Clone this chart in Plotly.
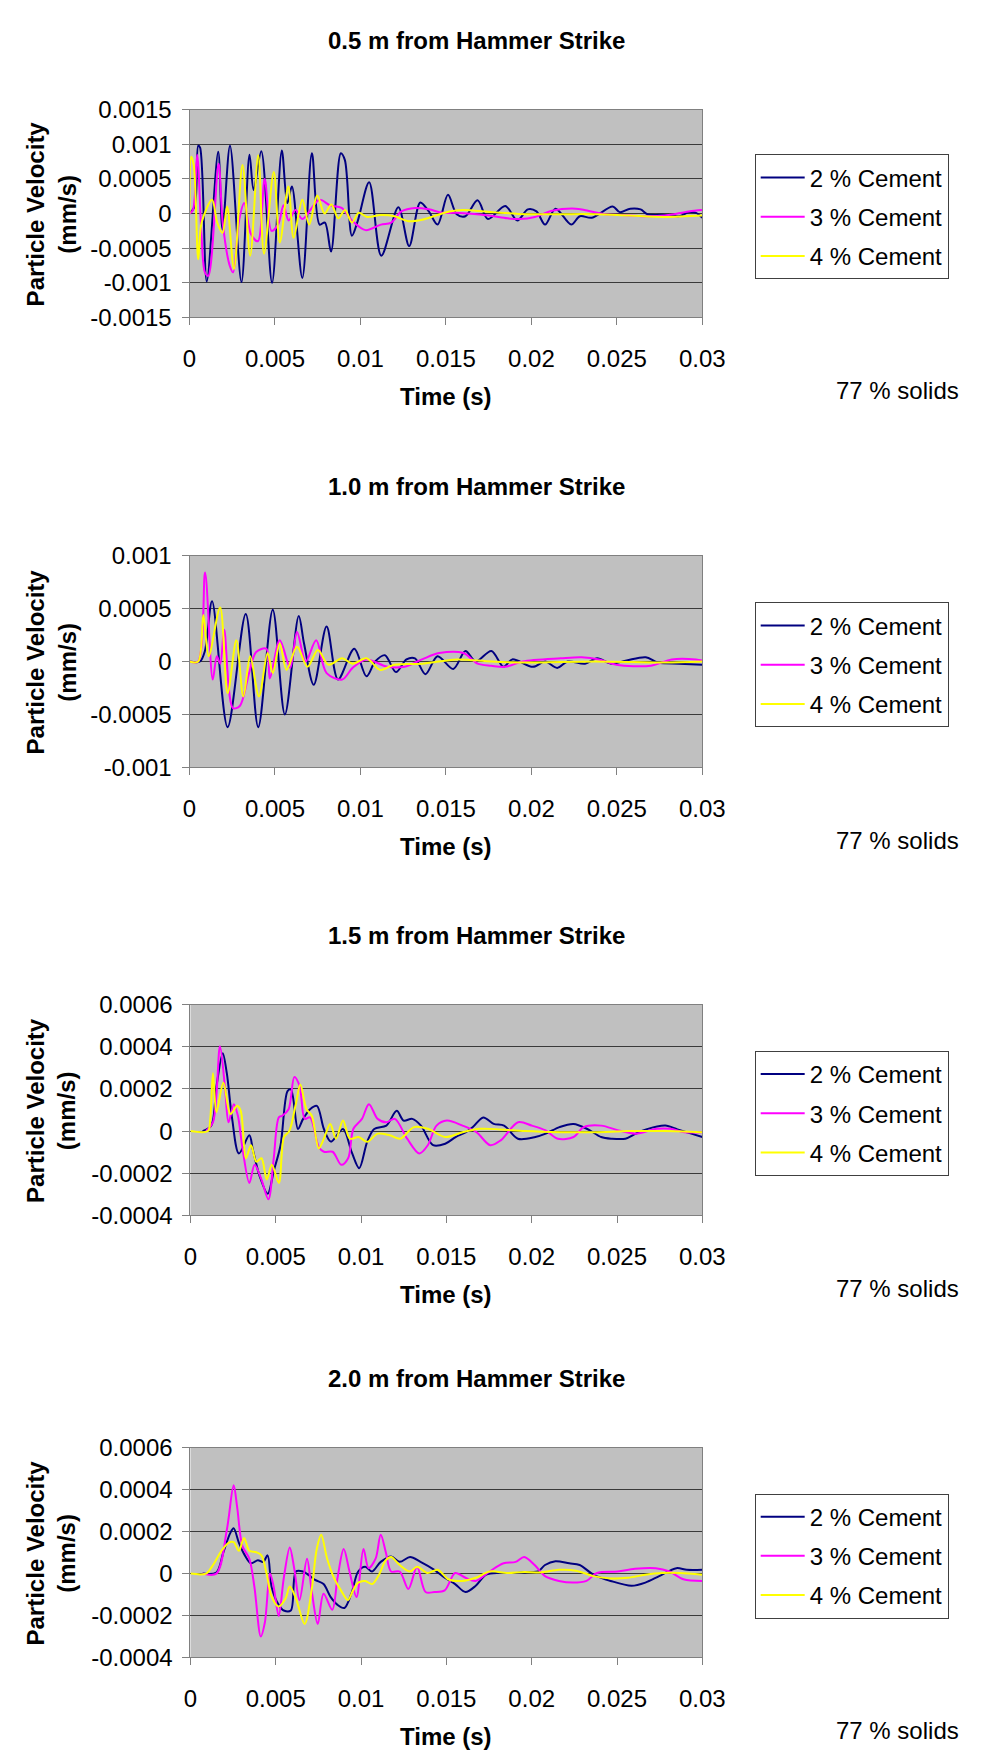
import plotly.graph_objects as go

# ---------------- data (time in s, particle velocity in mm/s) ----------------
SERIES_NAMES = ["2 % Cement", "3 % Cement", "4 % Cement"]
PANEL_TITLES = ["0.5 m from Hammer Strike", "1.0 m from Hammer Strike",
                "1.5 m from Hammer Strike", "2.0 m from Hammer Strike"]

X_TICKS = [0, 0.005, 0.01, 0.015, 0.02, 0.025, 0.03]
X_TICK_TEXT = ["0", "0.005", "0.01", "0.015", "0.02", "0.025", "0.03"]

Y1_TICKS = [-0.0015, -0.001, -0.0005, 0, 0.0005, 0.001, 0.0015]
Y1_TICK_TEXT = ["-0.0015", "-0.001", "-0.0005", "0", "0.0005", "0.001", "0.0015"]
Y2_TICKS = [-0.001, -0.0005, 0, 0.0005, 0.001]
Y2_TICK_TEXT = ["-0.001", "-0.0005", "0", "0.0005", "0.001"]
Y3_TICKS = [-0.0004, -0.0002, 0, 0.0002, 0.0004, 0.0006]
Y3_TICK_TEXT = ["-0.0004", "-0.0002", "0", "0.0002", "0.0004", "0.0006"]

# Panel 1 : 0.5 m
P1_CEM2 = [(0, 0), (0.3e-3, 0.1e-3), (0.51e-3, 0.98e-3), (0.62e-3, 0.95e-3), (1.01e-3, -0.98e-3),
           (1.68e-3, 0.89e-3), (1.93e-3, -0.23e-3), (2.37e-3, 0.98e-3), (3.04e-3, -0.99e-3),
           (3.51e-3, 0.85e-3), (3.75e-3, 0.34e-3), (4.2e-3, 0.9e-3), (4.83e-3, -1.0e-3),
           (5.4e-3, 0.91e-3), (5.72e-3, 0.15e-3), (5.99e-3, 0.39e-3), (6.6e-3, -0.93e-3),
           (7.16e-3, 0.87e-3), (7.61e-3, -0.16e-3), (7.92e-3, -0.13e-3), (8.28e-3, -0.55e-3),
           (8.85e-3, 0.87e-3), (9.09e-3, 0.77e-3), (9.5e-3, -0.32e-3), (9.84e-3, -0.11e-3),
           (10.51e-3, 0.45e-3), (11.22e-3, -0.61e-3), (12.22e-3, 0.09e-3), (12.85e-3, -0.47e-3),
           (13.5e-3, 0.16e-3), (14.0e-3, 0.03e-3), (14.51e-3, -0.16e-3), (15.12e-3, 0.27e-3),
           (15.63e-3, -0.01e-3), (16.14e-3, -0.04e-3), (16.85e-3, 0.19e-3), (17.46e-3, -0.08e-3),
           (18.47e-3, 0.11e-3), (19.18e-3, -0.1e-3), (19.79e-3, 0.06e-3), (20.3e-3, 0.03e-3),
           (20.8e-3, -0.16e-3), (21.41e-3, 0.07e-3), (22.33e-3, -0.16e-3), (22.83e-3, -0.04e-3),
           (23.54e-3, -0.06e-3), (24.76e-3, 0.1e-3), (25.17e-3, 0.02e-3), (25.78e-3, 0.07e-3),
           (26.39e-3, 0.06e-3), (26.79e-3, -0.01e-3), (27.81e-3, -0.02e-3), (28.62e-3, -0.04e-3),
           (29.23e-3, 0.02e-3), (29.63e-3, 0.01e-3), (30.0e-3, -0.06e-3)]
P1_CEM3 = [(0, 0), (0.2e-3, 0.05e-3), (0.45e-3, 0.85e-3), (0.7e-3, -0.3e-3), (0.9e-3, -0.85e-3),
           (1.1e-3, -0.9e-3), (1.7e-3, 0.72e-3), (1.95e-3, -0.15e-3), (2.35e-3, -0.75e-3),
           (2.55e-3, -0.85e-3), (2.9e-3, -0.1e-3), (3.2e-3, 0.15e-3), (3.6e-3, -0.3e-3),
           (4.0e-3, -0.4e-3), (4.4e-3, 0.5e-3), (4.8e-3, -0.25e-3), (5.2e-3, -0.15e-3),
           (5.5e-3, 0.12e-3), (5.8e-3, -0.1e-3), (6.2e-3, 0.05e-3), (6.6e-3, -0.08e-3),
           (7.6e-3, 0.2e-3), (8.2e-3, 0.12e-3), (8.9e-3, 0.08e-3), (9.5e-3, -0.1e-3),
           (10.3e-3, -0.24e-3), (11.2e-3, -0.16e-3), (11.8e-3, -0.13e-3), (12.4e-3, 0.03e-3),
           (13.2e-3, 0.08e-3), (14.0e-3, 0.06e-3), (14.8e-3, 0.01e-3), (15.6e-3, 0.01e-3),
           (17.5e-3, -0.03e-3), (18.6e-3, -0.07e-3), (19.3e-3, -0.08e-3), (20.2e-3, -0.05e-3),
           (21.2e-3, 0.04e-3), (22.6e-3, 0.07e-3), (23.1e-3, 0.05e-3), (24.3e-3, -0.01e-3),
           (25.3e-3, -0.02e-3), (26.6e-3, -0.04e-3), (27.8e-3, -0.03e-3), (29.2e-3, 0.03e-3),
           (30.0e-3, 0.05e-3)]
P1_CEM4 = [(0, 0), (0.1e-3, 0.82e-3), (0.25e-3, 0.7e-3), (0.51e-3, -0.66e-3), (0.71e-3, -0.13e-3),
           (1.32e-3, 0.2e-3), (1.62e-3, -0.13e-3), (1.93e-3, -0.28e-3), (2.2e-3, 0.1e-3),
           (2.6e-3, -0.8e-3), (3.1e-3, 0.7e-3), (3.55e-3, -0.61e-3), (4.02e-3, 0.84e-3),
           (4.36e-3, -0.58e-3), (4.93e-3, 0.6e-3), (5.28e-3, -0.42e-3), (5.78e-3, 0.39e-3),
           (6.09e-3, -0.35e-3), (6.6e-3, 0.2e-3), (7.0e-3, -0.16e-3), (7.47e-3, 0.26e-3),
           (7.9e-3, 0.0), (8.3e-3, 0.13e-3), (8.7e-3, -0.07e-3), (9.1e-3, 0.05e-3),
           (9.5e-3, -0.13e-3), (9.9e-3, 0.01e-3), (10.4e-3, -0.05e-3), (11.2e-3, -0.02e-3),
           (12.0e-3, -0.04e-3), (12.8e-3, -0.11e-3), (13.6e-3, -0.09e-3), (14.4e-3, -0.03e-3),
           (15.2e-3, 0.03e-3), (16.0e-3, 0.05e-3), (17.7e-3, 0.02e-3), (19.7e-3, -0.01e-3),
           (21.7e-3, -0.01e-3), (23.7e-3, -0.01e-3), (25.7e-3, -0.03e-3), (27.8e-3, -0.05e-3),
           (30.0e-3, -0.03e-3)]

# Panel 2 : 1.0 m
P2_CEM2 = [(0, 0), (0.61e-3, 0), (0.9e-3, 0.1e-3), (1.32e-3, 0.57e-3), (2.23e-3, -0.62e-3),
           (3.29e-3, 0.45e-3), (4.02e-3, -0.62e-3), (4.87e-3, 0.49e-3), (5.58e-3, -0.5e-3),
           (6.39e-3, 0.43e-3), (6.7e-3, 0.17e-3), (7.27e-3, -0.22e-3), (8.02e-3, 0.33e-3),
           (8.69e-3, -0.17e-3), (9.64e-3, 0.12e-3), (10.35e-3, -0.14e-3), (10.86e-3, 0.0),
           (11.43e-3, 0.06e-3), (12.08e-3, -0.1e-3), (12.69e-3, 0.02e-3), (13.19e-3, 0.03e-3),
           (13.8e-3, -0.12e-3), (14.51e-3, 0.05e-3), (15.43e-3, -0.07e-3), (16.14e-3, 0.1e-3),
           (16.74e-3, 0.0), (17.66e-3, 0.1e-3), (18.37e-3, -0.05e-3), (18.88e-3, 0.02e-3),
           (20.09e-3, -0.05e-3), (20.8e-3, 0.0), (21.51e-3, -0.06e-3), (22.12e-3, 0.0),
           (23.14e-3, -0.02e-3), (23.85e-3, 0.03e-3), (24.66e-3, -0.02e-3), (25.57e-3, 0.01e-3),
           (26.69e-3, 0.04e-3), (27.4e-3, -0.01e-3), (28.62e-3, -0.02e-3), (30.0e-3, -0.03e-3)]
P2_CEM3 = [(0, 0), (0.5e-3, 0.0), (0.91e-3, 0.84e-3), (1.36e-3, -0.17e-3), (1.6e-3, 0.05e-3),
           (1.8e-3, -0.02e-3), (2.03e-3, 0.3e-3), (2.54e-3, -0.44e-3), (2.94e-3, -0.42e-3),
           (3.5e-3, -0.1e-3), (3.9e-3, 0.09e-3), (4.5e-3, 0.12e-3), (4.7e-3, -0.16e-3),
           (5.28e-3, 0.2e-3), (5.89e-3, -0.06e-3), (6.29e-3, 0.28e-3), (6.8e-3, 0.0),
           (7.41e-3, 0.2e-3), (8.02e-3, -0.11e-3), (8.93e-3, -0.17e-3), (9.54e-3, -0.06e-3),
           (10.35e-3, 0.02e-3), (11.57e-3, -0.05e-3), (12.58e-3, -0.05e-3), (13.6e-3, 0.02e-3),
           (14.61e-3, 0.08e-3), (16.03e-3, 0.08e-3), (16.85e-3, -0.02e-3), (17.66e-3, -0.04e-3),
           (18.47e-3, -0.05e-3), (19.48e-3, 0.0), (21.72e-3, 0.03e-3), (22.94e-3, 0.04e-3),
           (23.95e-3, 0.02e-3), (24.96e-3, -0.03e-3), (26.99e-3, -0.04e-3), (28.21e-3, 0.02e-3),
           (29.63e-3, 0.02e-3), (30.0e-3, 0.01e-3)]
P2_CEM4 = [(0, 0), (0.51e-3, 0.0), (0.81e-3, 0.44e-3), (1.12e-3, 0.05e-3), (1.79e-3, 0.51e-3),
           (2.23e-3, -0.3e-3), (2.74e-3, 0.2e-3), (3.15e-3, -0.33e-3), (3.55e-3, 0.05e-3),
           (4.06e-3, -0.33e-3), (4.57e-3, 0.08e-3), (4.87e-3, -0.11e-3), (5.28e-3, 0.17e-3),
           (5.68e-3, -0.08e-3), (6.29e-3, 0.14e-3), (6.9e-3, -0.05e-3), (7.51e-3, 0.11e-3),
           (8.12e-3, -0.03e-3), (8.93e-3, 0.03e-3), (9.54e-3, -0.02e-3), (10.35e-3, 0.03e-3),
           (11.16e-3, -0.08e-3), (11.97e-3, -0.03e-3), (13.6e-3, -0.02e-3), (15.63e-3, 0.02e-3),
           (17.66e-3, 0.0), (19.69e-3, -0.01e-3), (23.75e-3, 0.0), (27.81e-3, -0.01e-3),
           (30.0e-3, 0.0)]

# Panel 3 : 1.5 m
P3_CEM2 = [(0.71e-3, 0), (1.22e-3, 0.27e-4), (1.52e-3, 2.1e-4), (1.89e-3, 3.7e-4), (2.13e-3, 2.75e-4),
           (2.44e-3, 0.6e-4), (2.84e-3, -1.06e-4), (3.45e-3, -0.2e-4), (3.66e-3, -0.9e-4),
           (4.06e-3, -2.15e-4), (4.53e-3, -2.97e-4), (4.88e-3, -1.9e-4), (5.28e-3, -0.67e-4),
           (5.69e-3, 1.9e-4), (5.89e-3, 1.98e-4), (6.3e-3, 0.1e-4), (6.6e-3, 0.58e-4),
           (7.01e-3, 1.04e-4), (7.41e-3, 1.2e-4), (7.82e-3, 0.1e-4), (8.23e-3, -0.5e-4),
           (8.94e-3, 0.1e-4), (9.45e-3, -1.0e-4), (9.89e-3, -1.76e-4), (10.36e-3, -0.5e-4),
           (10.77e-3, 0.1e-4), (11.48e-3, 0.26e-4), (12.09e-3, 0.96e-4), (12.49e-3, 0.5e-4),
           (13.0e-3, 0.58e-4), (13.51e-3, 0.26e-4), (14.22e-3, -0.67e-4), (14.93e-3, -0.6e-4),
           (15.54e-3, -0.28e-4), (16.15e-3, -0.05e-4), (16.55e-3, 0.19e-4), (17.16e-3, 0.65e-4),
           (17.77e-3, 0.34e-4), (18.38e-3, 0.26e-4), (19.19e-3, -0.36e-4), (20.21e-3, -0.28e-4),
           (20.82e-3, -0.12e-4), (21.63e-3, 0.19e-4), (22.45e-3, 0.34e-4), (23.26e-3, 0.1e-4),
           (24.07e-3, -0.28e-4), (24.68e-3, -0.36e-4), (25.49e-3, -0.36e-4), (26.1e-3, -0.12e-4),
           (26.71e-3, 0.08e-4), (27.83e-3, 0.26e-4), (28.54e-3, 0.08e-4), (29.35e-3, -0.12e-4),
           (30.0e-3, -0.28e-4)]
P3_CEM3 = [(0.91e-3, 0), (1.32e-3, 0.42e-4), (1.73e-3, 4.03e-4), (2.03e-3, 2.0e-4), (2.23e-3, 0.42e-4),
           (2.54e-3, 1.28e-4), (2.78e-3, 0.73e-4), (3.05e-3, -0.82e-4), (3.45e-3, -2.46e-4),
           (3.76e-3, -1.6e-4), (4.16e-3, -2.3e-4), (4.57e-3, -3.24e-4), (4.88e-3, -1.29e-4),
           (5.18e-3, 0.65e-4), (5.38e-3, 0.73e-4), (5.75e-3, 1.04e-4), (6.09e-3, 2.57e-4),
           (6.4e-3, 2.13e-4), (6.7e-3, 0.58e-4), (7.01e-3, 0.65e-4), (7.52e-3, -0.75e-4),
           (7.82e-3, -0.98e-4), (8.33e-3, -0.98e-4), (8.84e-3, -1.6e-4), (9.24e-3, -1.29e-4),
           (9.55e-3, 0.11e-4), (10.05e-3, 0.58e-4), (10.46e-3, 1.28e-4), (10.97e-3, 0.58e-4),
           (11.48e-3, 0.42e-4), (11.98e-3, 0.58e-4), (12.7e-3, -0.36e-4), (13.41e-3, -1.06e-4),
           (13.91e-3, -0.67e-4), (14.42e-3, 0.26e-4), (15.03e-3, 0.5e-4), (15.95e-3, 0.26e-4),
           (16.76e-3, -0.05e-4), (17.57e-3, -0.67e-4), (18.18e-3, -0.44e-4), (19.2e-3, 0.42e-4),
           (20.01e-3, 0.26e-4), (20.82e-3, 0.03e-4), (21.53e-3, -0.36e-4), (22.45e-3, -0.28e-4),
           (23.05e-3, 0.19e-4), (24.07e-3, 0.26e-4), (25.09e-3, 0.03e-4), (26.1e-3, -0.12e-4),
           (27.32e-3, 0.11e-4), (28.13e-3, 0.11e-4), (28.95e-3, -0.05e-4), (30.0e-3, -0.05e-4)]
P3_CEM4 = [(0, 0), (1.02e-3, 0), (1.16e-3, 0.58e-4), (1.32e-3, 2.75e-4), (1.52e-3, 0.9e-4),
           (1.93e-3, 2.29e-4), (2.34e-3, 0.81e-4), (2.74e-3, 1.2e-4), (2.95e-3, 0.95e-4),
           (3.25e-3, -1.29e-4), (3.55e-3, -0.67e-4), (3.86e-3, -1.45e-4), (4.16e-3, -1.29e-4),
           (4.47e-3, -2.3e-4), (4.77e-3, -1.6e-4), (5.18e-3, -2.46e-4), (5.48e-3, -0.28e-4),
           (5.79e-3, 0), (6.19e-3, 1.35e-4), (6.44e-3, 2.21e-4), (6.8e-3, 1.04e-4),
           (7.11e-3, 0.73e-4), (7.52e-3, -0.82e-4), (7.82e-3, -0.36e-4), (8.19e-3, 0.34e-4),
           (8.53e-3, -0.36e-4), (8.94e-3, 0.5e-4), (9.34e-3, -0.36e-4), (9.85e-3, -0.28e-4),
           (10.36e-3, -0.51e-4), (10.97e-3, -0.12e-4), (11.68e-3, -0.2e-4), (12.29e-3, -0.36e-4),
           (13.1e-3, 0.19e-4), (13.91e-3, 0.11e-4), (14.93e-3, -0.28e-4), (15.95e-3, -0.05e-4),
           (16.96e-3, 0.11e-4), (18.18e-3, 0.08e-4), (19.6e-3, 0), (21.63e-3, -0.05e-4),
           (23.66e-3, -0.05e-4), (25.7e-3, 0), (27.73e-3, 0), (30.0e-3, -0.05e-4)]

# Panel 4 : 2.0 m
P4_CEM2 = [(0.71e-3, 0), (1.52e-3, 0.05e-4), (1.93e-3, 1.02e-4), (2.33e-3, 1.93e-4), (2.53e-3, 2.16e-4),
           (2.84e-3, 1.47e-4), (3.14e-3, 0.94e-4), (3.55e-3, 0.49e-4), (3.95e-3, 0.64e-4),
           (4.26e-3, 0.55e-4), (4.52e-3, 0.87e-4), (4.76e-3, -0.65e-4), (5.17e-3, -1.49e-4),
           (5.47e-3, -1.76e-4), (5.88e-3, -1.76e-4), (6.18e-3, 0.1e-4), (6.59e-3, 0.1e-4),
           (6.89e-3, -0.05e-4), (7.3e-3, -0.3e-4), (7.8e-3, -0.5e-4), (8.21e-3, -1.11e-4),
           (8.62e-3, -1.49e-4), (9.02e-3, -1.64e-4), (9.43e-3, -0.96e-4), (9.83e-3, 0.1e-4),
           (10.24e-3, 0.33e-4), (10.64e-3, 0.1e-4), (11.15e-3, 0.56e-4), (11.76e-3, 0.82e-4),
           (12.26e-3, 0.56e-4), (12.87e-3, 0.79e-4), (13.48e-3, 0.56e-4), (14.29e-3, 0.18e-4),
           (14.9e-3, -0.2e-4), (15.51e-3, -0.5e-4), (16.12e-3, -0.88e-4), (16.72e-3, -0.58e-4),
           (17.33e-3, -0.05e-4), (18.14e-3, 0.03e-4), (18.95e-3, 0.03e-4), (19.76e-3, 0.08e-4),
           (20.37e-3, 0.1e-4), (20.78e-3, 0.41e-4), (21.39e-3, 0.59e-4), (22.2e-3, 0.49e-4),
           (22.81e-3, 0.41e-4), (23.62e-3, -0.05e-4), (24.63e-3, -0.35e-4), (25.85e-3, -0.58e-4),
           (26.66e-3, -0.43e-4), (27.47e-3, -0.12e-4), (28.48e-3, 0.26e-4), (29.09e-3, 0.18e-4),
           (30.0e-3, 0.18e-4)]
P4_CEM3 = [(0.71e-3, 0), (1.52e-3, 0.0), (2.13e-3, 2.08e-4), (2.53e-3, 4.21e-4), (2.74e-3, 3.15e-4),
           (3.04e-3, 1.32e-4), (3.45e-3, 0.71e-4), (3.75e-3, -0.65e-4), (4.12e-3, -3.0e-4),
           (4.36e-3, -2.33e-4), (4.66e-3, 0.0), (4.87e-3, -0.6e-4), (5.17e-3, -2.02e-4),
           (5.47e-3, -0.2e-4), (5.82e-3, 1.25e-4), (6.08e-3, 0.25e-4), (6.39e-3, -1.26e-4),
           (6.83e-3, 0.71e-4), (7.1e-3, -0.8e-4), (7.46e-3, -2.4e-4), (7.8e-3, -0.96e-4),
           (8.31e-3, -1.72e-4), (8.62e-3, -0.2e-4), (8.98e-3, 1.17e-4), (9.32e-3, 0.1e-4),
           (9.73e-3, -1.11e-4), (10.14e-3, 1.17e-4), (10.44e-3, 0.26e-4), (10.85e-3, 0.71e-4),
           (11.15e-3, 1.85e-4), (11.45e-3, 1.02e-4), (11.76e-3, 0.1e-4), (12.26e-3, 0.1e-4),
           (12.77e-3, -0.73e-4), (13.28e-3, 0.33e-4), (13.78e-3, -0.88e-4), (14.29e-3, -0.88e-4),
           (14.9e-3, -0.8e-4), (15.51e-3, 0.03e-4), (16.12e-3, -0.2e-4), (16.72e-3, -0.35e-4),
           (17.53e-3, 0.1e-4), (18.35e-3, 0.49e-4), (19.06e-3, 0.56e-4), (19.56e-3, 0.79e-4),
           (20.17e-3, 0.41e-4), (20.78e-3, -0.12e-4), (21.59e-3, -0.35e-4), (22.4e-3, -0.43e-4),
           (23.21e-3, -0.35e-4), (23.82e-3, 0.03e-4), (25.04e-3, 0.1e-4), (26.05e-3, 0.23e-4),
           (27.27e-3, 0.26e-4), (28.08e-3, 0.1e-4), (28.89e-3, -0.27e-4), (30.0e-3, -0.35e-4)]
P4_CEM4 = [(0, 0), (0.91e-3, 0), (1.32e-3, 0.41e-4), (1.82e-3, 1.09e-4), (2.23e-3, 1.47e-4),
           (2.53e-3, 1.5e-4), (2.84e-3, 1.09e-4), (3.14e-3, 1.7e-4), (3.45e-3, 1.09e-4),
           (3.85e-3, 1.02e-4), (4.16e-3, 0.87e-4), (4.46e-3, 0), (4.76e-3, -1.11e-4),
           (5.17e-3, -1.57e-4), (5.57e-3, -1.19e-4), (5.82e-3, -0.62e-4), (6.18e-3, -1.19e-4),
           (6.69e-3, -2.4e-4), (7.1e-3, -0.8e-4), (7.4e-3, 1.17e-4), (7.66e-3, 1.85e-4),
           (8.01e-3, 0.71e-4), (8.41e-3, -0.2e-4), (8.82e-3, -0.8e-4), (9.22e-3, -1.26e-4),
           (9.53e-3, -0.8e-4), (9.83e-3, -0.43e-4), (10.24e-3, -0.35e-4), (10.64e-3, -0.5e-4),
           (11.05e-3, -0.05e-4), (11.45e-3, 0.64e-4), (11.76e-3, 0.79e-4), (12.26e-3, 0.41e-4),
           (12.87e-3, 0.1e-4), (13.28e-3, 0.33e-4), (13.89e-3, 0.03e-4), (14.49e-3, 0.18e-4),
           (15.1e-3, -0.27e-4), (15.91e-3, -0.35e-4), (16.72e-3, -0.2e-4), (17.53e-3, 0.1e-4),
           (18.55e-3, 0.03e-4), (19.56e-3, 0.08e-4), (20.58e-3, 0.06e-4), (21.59e-3, 0.18e-4),
           (22.6e-3, 0.14e-4), (23.62e-3, -0.12e-4), (24.63e-3, -0.23e-4), (25.64e-3, -0.2e-4),
           (26.66e-3, -0.05e-4), (27.67e-3, 0.03e-4), (28.68e-3, 0.03e-4), (30.0e-3, -0.05e-4)]

PANEL_SERIES = [
    [P1_CEM2, P1_CEM3, P1_CEM4],
    [P2_CEM2, P2_CEM3, P2_CEM4],
    [P3_CEM2, P3_CEM3, P3_CEM4],
    [P4_CEM2, P4_CEM3, P4_CEM4],
]
PANEL_YRANGE = [(-0.0015, 0.0015), (-0.001, 0.001), (-0.0004, 0.0006), (-0.0004, 0.0006)]
PANEL_YTICKS = [(Y1_TICKS, Y1_TICK_TEXT), (Y2_TICKS, Y2_TICK_TEXT),
                (Y3_TICKS, Y3_TICK_TEXT), (Y3_TICKS, Y3_TICK_TEXT)]

# ---------------- styling / layout ----------------
W, H = 982, 1758
COLORS = ["#000080", "#FF00FF", "#FFFF00"]
FONT = "Liberation Sans, Arial, sans-serif"
FS = 24

# plot-area boxes in pixels: (left, top, right, bottom)
BOXES = [(180, 89, 709, 300), (180, 542, 709, 757), (181, 998, 709, 1212), (181, 1448, 709, 1661)]


def fx(px):
    return px / W


def fy(py):
    return 1 - py / H


fig = go.Figure()
annotations = []
for i, (series, box) in enumerate(zip(PANEL_SERIES, BOXES)):
    n = i + 1
    suffix = "" if n == 1 else str(n)
    legend_name = "legend" + suffix
    for s, (pts, name, color) in enumerate(zip(series, SERIES_NAMES, COLORS)):
        fig.add_trace(go.Scatter(
            x=[p[0] for p in pts], y=[p[1] for p in pts],
            mode="lines", name=name,
            line=dict(color=color, width=2, shape="spline", smoothing=0.9),
            xaxis="x" + suffix, yaxis="y" + suffix,
            legend=legend_name, legendgroup=f"p{n}s{s}",
            hoverinfo="skip",
        ))
    left, top, right, bottom = box
    yr = PANEL_YRANGE[i]
    ytv, ytt = PANEL_YTICKS[i]
    fig.update_layout(**{
        "xaxis" + suffix: dict(
            domain=[fx(left), fx(right)], anchor="y" + suffix, range=[0, 0.03],
            tickvals=X_TICKS, ticktext=X_TICK_TEXT, showgrid=False, zeroline=False,
            showline=True, mirror=True, linecolor="#808080", linewidth=1,
            ticks="outside", ticklen=7, tickcolor="#808080", ticklabelstandoff=13,
            tickfont=dict(family=FONT, size=FS, color="black"),
        ),
        "yaxis" + suffix: dict(
            domain=[fy(bottom), fy(top)], anchor="x" + suffix, range=list(yr),
            tickvals=ytv, ticktext=ytt, showgrid=True, gridcolor="#3a3a3a", gridwidth=1,
            zeroline=False, showline=True, mirror=True, linecolor="#808080", linewidth=1,
            ticks="outside", ticklen=7, tickcolor="#808080", ticklabelstandoff=5,
            tickfont=dict(family=FONT, size=FS, color="black"),
        ),
        legend_name: dict(
            x=fx(763), y=fy((top + bottom) / 2 - 60), xanchor="left", yanchor="top",
            bgcolor="white", bordercolor="#404040", borderwidth=1,
            font=dict(family=FONT, size=FS, color="black"),
            tracegroupgap=5, traceorder="grouped", itemwidth=44,
        ),
    })
    # chart title
    annotations.append(dict(
        text=PANEL_TITLES[i], x=fx(476), y=fy(top - 70), xref="paper", yref="paper",
        xanchor="center", yanchor="middle", showarrow=False,
        font=dict(family=FONT, size=FS, color="black", weight="bold")))
    # x axis title
    annotations.append(dict(
        text="Time (s)", x=fx((left + right) / 2), y=fy(bottom + 80), xref="paper", yref="paper",
        xanchor="center", yanchor="middle", showarrow=False,
        font=dict(family=FONT, size=FS, color="black", weight="bold")))
    # y axis title
    annotations.append(dict(
        text="Particle Velocity<br>(mm/s)", x=fx(37), y=fy((top + bottom) / 2),
        xref="paper", yref="paper", xanchor="center", yanchor="middle", textangle=-90,
        showarrow=False, font=dict(family=FONT, size=FS, color="black", weight="bold")))
    # note
    annotations.append(dict(
        text="77 % solids", x=fx(976), y=fy(bottom + 74), xref="paper", yref="paper",
        xanchor="right", yanchor="middle", showarrow=False,
        font=dict(family=FONT, size=FS, color="black")))

fig.update_layout(
    width=W, height=H, margin=dict(l=0, r=0, t=0, b=0),
    paper_bgcolor="white", plot_bgcolor="#C0C0C0",
    showlegend=True, annotations=annotations,
)

fig.write_html("out.html")
